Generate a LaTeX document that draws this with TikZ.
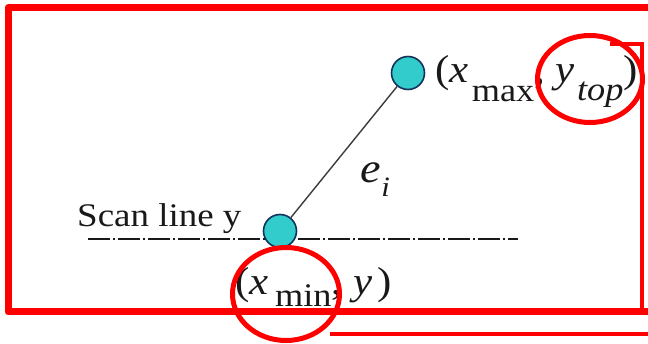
\documentclass[tikz,border=0pt]{standalone}
\usepackage{fontspec}
\setmainfont{Liberation Serif}
\newfontfamily\tnr{Liberation Serif}
\usepackage{graphicx}
\definecolor{redline}{RGB}{255,0,0}
\definecolor{dotfill}{RGB}{51,204,204}
\definecolor{dotedge}{RGB}{20,50,90}
\definecolor{ink}{RGB}{25,25,25}
\newcommand{\mainsz}{\tnr\fontsize{39}{41}\selectfont}
\newcommand{\subsz}{\tnr\fontsize{33}{35}\selectfont}
\begin{document}
\begin{tikzpicture}[x=1pt,y=-1pt,
  frame/.style={draw=redline, line width=7pt, line join=round},
  thinframe/.style={draw=redline, line width=4pt},
  ring/.style={draw=redline, line width=5pt},
  vertex/.style={circle, fill=dotfill, draw=dotedge, line width=1.6pt, minimum size=33pt, inner sep=0pt},
  lbl/.style={anchor=base west, inner sep=0pt, text=ink, font=\tnr},
  edgeline/.style={draw=ink!85, line width=1.4pt},
  scanline/.style={draw=ink, line width=1.3pt, dash pattern=on 22pt off 3pt on 2pt off 3pt}]
\useasboundingbox (0,0) rectangle (648,344);
\clip (0,0) rectangle (648,344);
\fill[white] (0,0) rectangle (648,344);
% red outlines
\draw[thinframe] (610,44) -- (642,44) -- (642,312);
\draw[thinframe] (330,334) -- (660,334);
\draw[frame] (660,7.5) -- (8,7.5) -- (8,312) -- (660,312);
% scan line
\coordinate (sl1) at (88,239);
\coordinate (sl2) at (518,239);
\draw[scanline] (sl1) -- (sl2);
\node[lbl] (scan) at (77,227) {\scalebox{1.12}[1]{\tnr\fontsize{33}{35}\selectfont Scan line y}};
% vertices and edge
\node[vertex] (vmin) at (280,231) {};
\node[vertex] (vmax) at (408,73) {};
\draw[edgeline] (vmin) -- (vmax);
\node[lbl] (ei) at (360,183) {\scalebox{1.1}[1]{\tnr\fontsize{42}{44}\selectfont\textit{e}\kern0.5pt\raisebox{-14pt}{\fontsize{28}{30}\selectfont\textit{i}}}};
% labels
\node[lbl] (top) at (435,83) {\scalebox{1.1}[1]{\mainsz(\textit{x}\kern3pt\raisebox{-19pt}{\subsz max}, \textit{y}\kern2pt\raisebox{-18pt}{\subsz\textit{top}})}};
\node[lbl] (bot) at (235,295) {\scalebox{1.1}[1]{\mainsz(\textit{x}\kern6pt\raisebox{-12pt}{\subsz min}, \textit{y}\kern5pt)}};
% red rings
\draw[ring] (590,79) ellipse [x radius=52.5, y radius=43.5];
\draw[ring] (286,294) ellipse [x radius=53.5, y radius=46.5];
\end{tikzpicture}
\end{document}
